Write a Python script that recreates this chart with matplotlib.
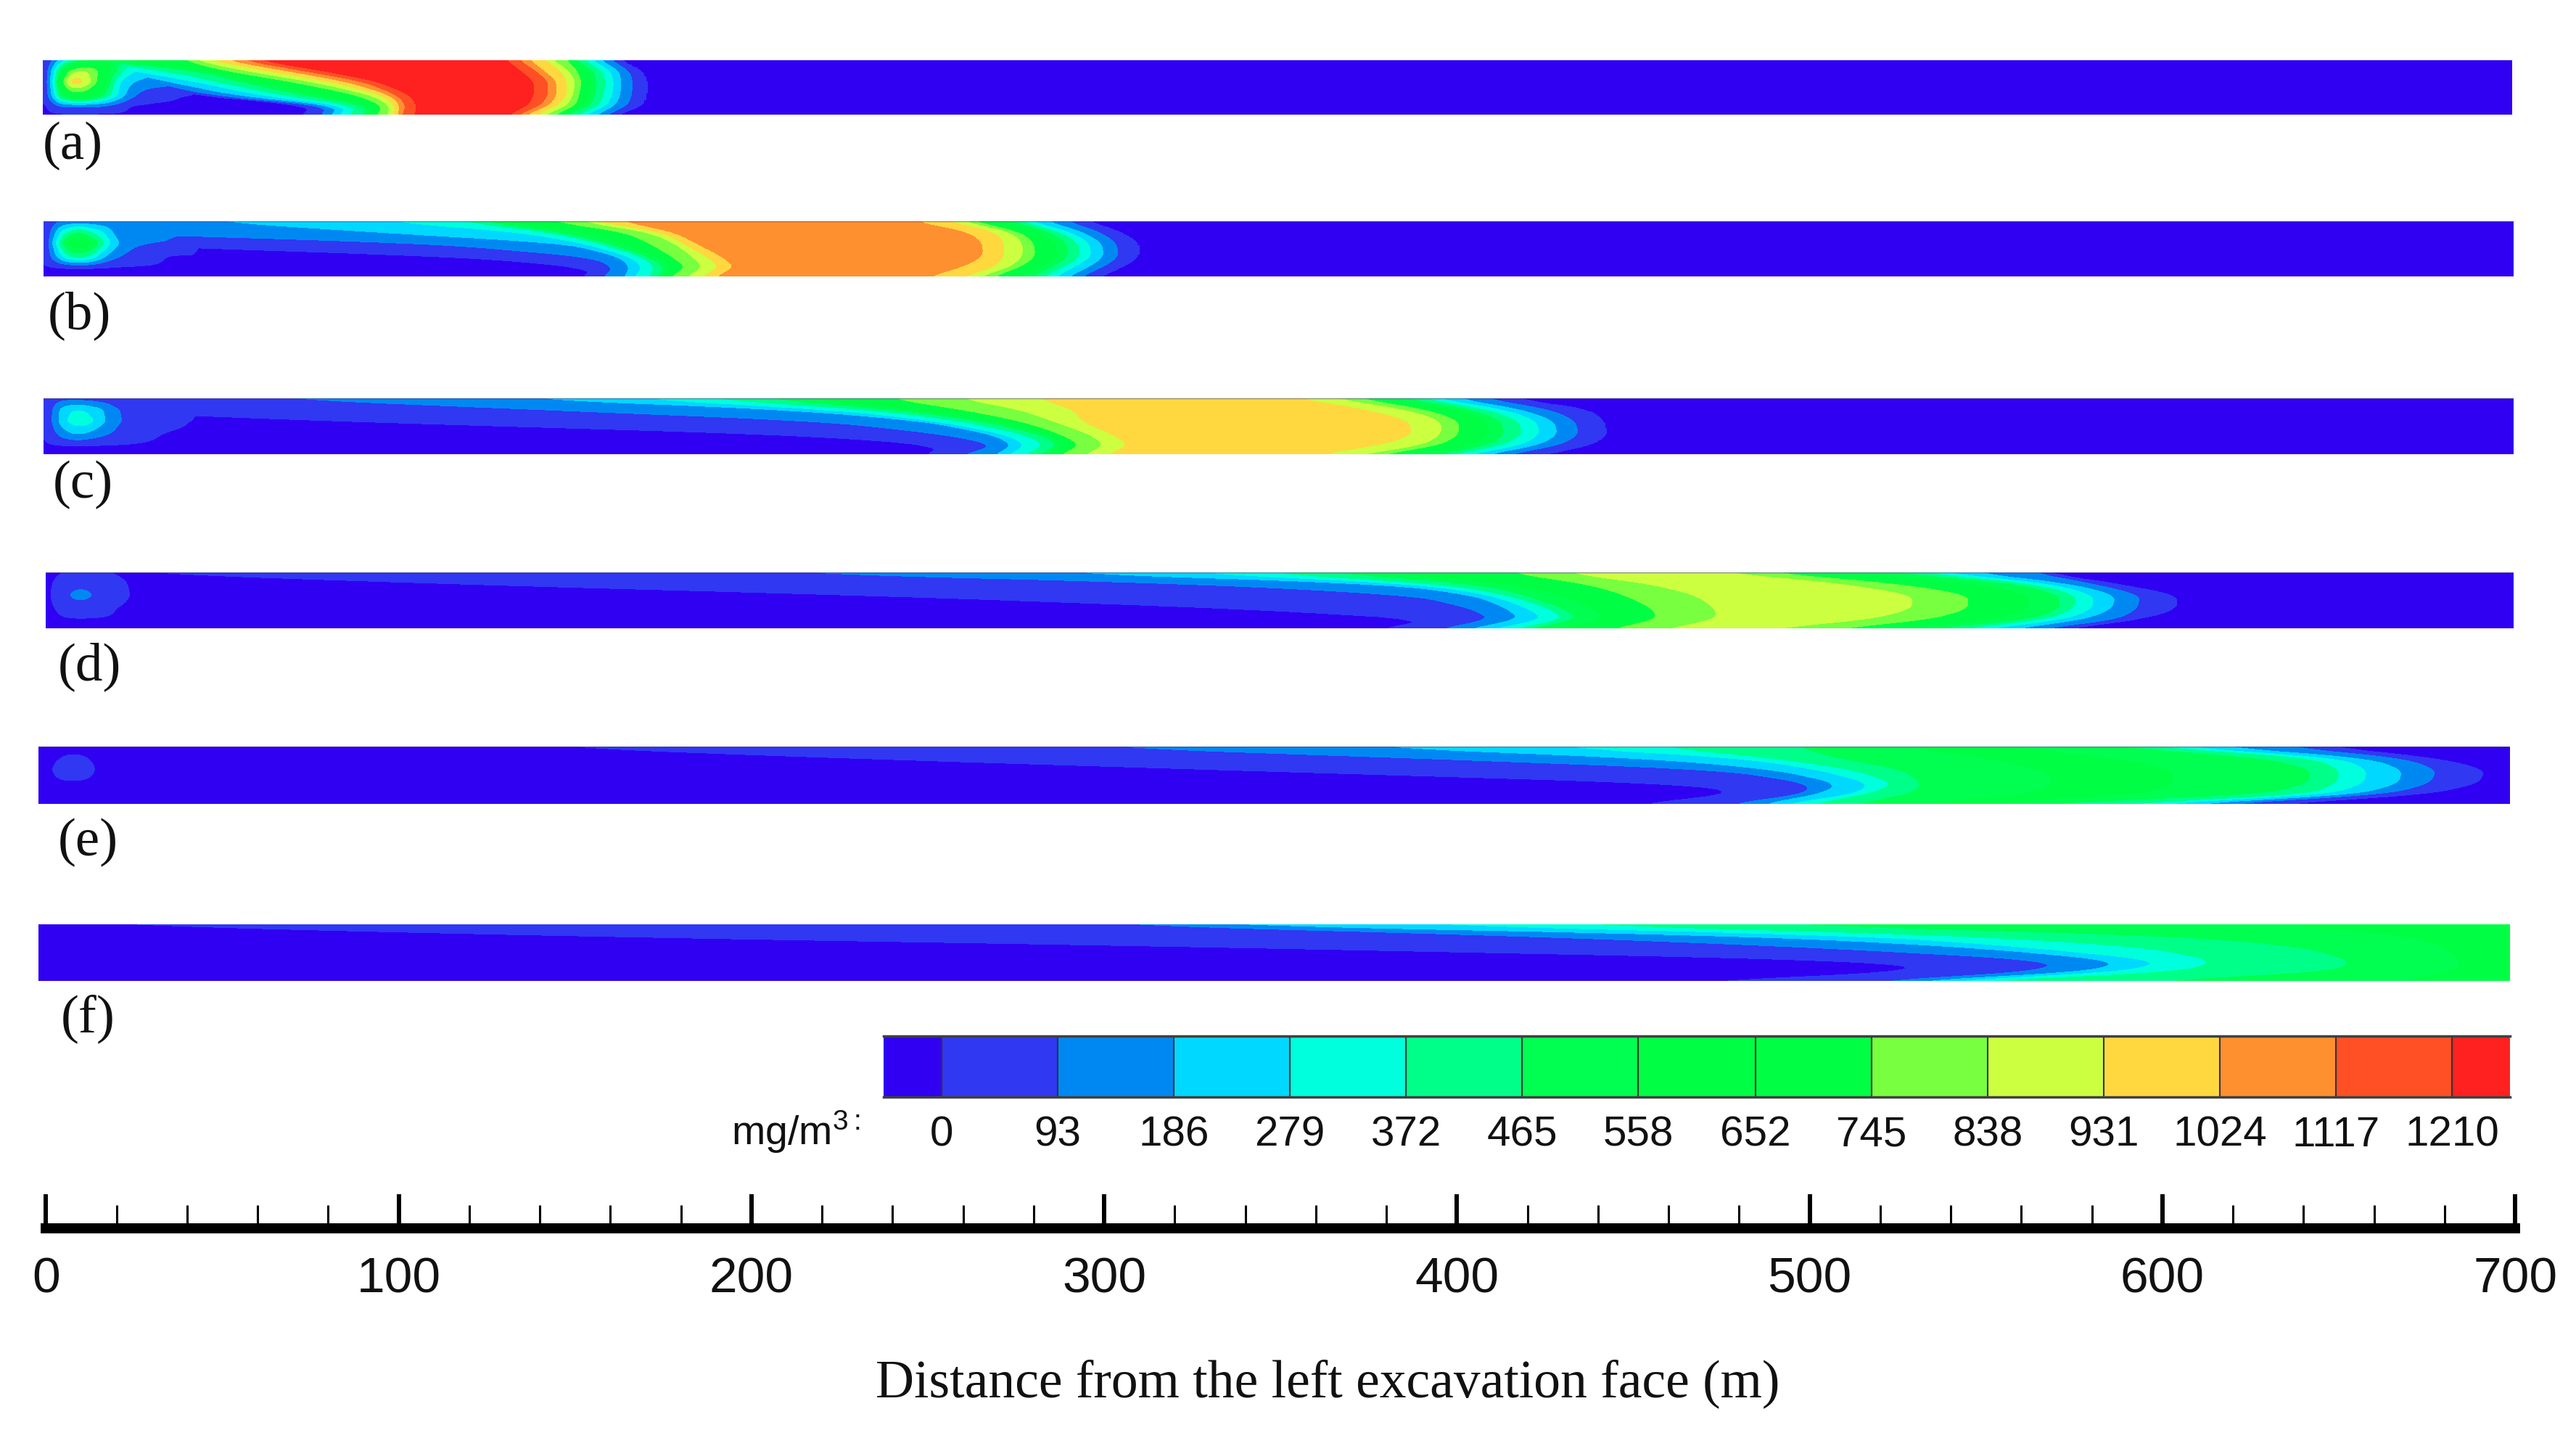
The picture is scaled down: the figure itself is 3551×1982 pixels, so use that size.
import numpy as np
import matplotlib
matplotlib.use("Agg")
import matplotlib.pyplot as plt

W, H = 3551, 1983
SHRINK = 3551 / 1568

# ---- colour scale ----
TICK_VALUES = [0, 93, 186, 279, 372, 465, 558, 652, 745, 838, 931, 1024, 1117, 1210]
BAND_COLORS = ["#3000F2", "#3038F2", "#0088F2", "#00D8FF", "#00FFDD", "#00FF88", "#00FF50",
               "#00FF44", "#00FF44", "#78FF40", "#CCFF40", "#FFD840", "#FF9030", "#FF5025", "#FF2020"]
UNIT_LABEL = "mg/m$^{3:}$"

# ---- distance scale ----
MAJOR_TICKS = [0, 100, 200, 300, 400, 500, 600, 700]
MINOR_TICKS = [20, 40, 60, 80, 120, 140, 160, 180, 220, 240, 260, 280, 320, 340, 360, 380, 420, 440,
               460, 480, 520, 540, 560, 580, 620, 640, 660, 680]
X_LABEL = "Distance from the left excavation face (m)"
PANEL_LABELS = ["(a)", "(b)", "(c)", "(d)", "(e)", "(f)"]

# ---- field ----
# Heights across the strip (1 = top) at which the band edges were read.
ROW_HEIGHTS = [1.0, 0.8, 0.6, 0.35, 0.15, 0.0]
LEVELS_A = [0, 93, 186, 279, 372, 465, 745, 838, 931, 1024, 1117, 1210]
LEVELS_B = [0, 93, 186, 279, 372, 465, 745, 838, 931, 1024]
LEVELS_C = [0, 93, 186, 279, 372, 465, 745, 838, 931]
LEVELS_D = [0, 93, 186, 279, 372, 465, 745, 838]
LEVELS_E = [0, 93, 186, 279, 372, 465]
LEVELS_F = [0, 93, 186, 279, 372, 465]
PLATEAUS = [1300, 1070, 980, 885, 600, 600]

# distance (m) at which concentration climbs through each level, one list per height
RISE_A = [[0.9, 3.3, 5.1, 6.8, 9.2, 12.8, 39.9, 42.9, 47, 51.7, 56.4, 60.6],
          [13.9, 17.5, 21, 25.7, 35.2, 44.6, 51.7, 57.6, 63.5, 69.4, 74.1, 79.5],
          [24.6, 30.5, 35.8, 43.4, 49.4, 55.8, 70.6, 76.5, 81.8, 86.5, 91.3, 95.4],
          [44, 47.5, 54.7, 61.7, 68.2, 74.7, 89.5, 93.6, 96.6, 98.9, 100.7, 104.2],
          [77.1, 81.2, 84.2, 86.5, 89.5, 92.4, 96.6, 98.7, 100.1, 101.5, 103.1, 106],
          [73.6, 78.9, 81.8, 84.2, 87.1, 90.7, 94.8, 97.8, 99.5, 100.7, 101.9, 105.4]]
FALL_A = [[131.4, 134.9, 137.9, 142, 144.4, 148.5, 150.9, 153.3, 155.6, 158, 161, 163.3],
          [135.5, 139.7, 142, 146.8, 149.1, 151.5, 156.2, 158.6, 160.9, 163.3, 166.2, 169.8],
          [139.3, 143.2, 145.6, 148.5, 150.9, 152.7, 156.8, 159.4, 161.8, 163.9, 167.2, 171.2],
          [139.3, 143.2, 145.6, 148.5, 150.2, 152, 156.5, 159, 161.4, 163.6, 166.9, 171],
          [137.3, 140.9, 143.2, 145.6, 148.5, 150.9, 155, 157.4, 159.7, 162.1, 165.6, 169.8],
          [132, 134.4, 136.7, 139.7, 142, 145, 148.5, 151.5, 153.8, 156.8, 159.7, 162.7]]

RISE_B = [[0.5, 5.2, 46.5, 96.1, 117.4, 123.3, 143.4, 151.7, 155.2, 163.5],
          [0.2, 0.7, 93.7, 135, 143.3, 146.9, 164.7, 171.7, 175.3, 178.8],
          [1.7, 109, 148, 152.8, 157.5, 159.9, 171.7, 178.8, 181.2, 184.7],
          [119.7, 155.1, 163.4, 166.4, 169.9, 171.7, 178.2, 184.1, 188.3, 192.4],
          [155.4, 162, 166.4, 169.9, 173.4, 176.4, 182.4, 187.1, 191.8, 195.9],
          [153.4, 158.7, 164.6, 167.5, 171.7, 174, 177.6, 182.4, 186.5, 190.6]]
FALL_B = [[246.1, 255.6, 259.7, 262.7, 273.3, 276.2, 279.2, 283.9, 289.8, 295.7],
          [262.1, 269.7, 273.9, 276.8, 285.1, 288, 291, 294.5, 299.3, 305.2],
          [266.2, 272.1, 277.4, 280.6, 289.8, 293.1, 296.3, 299.8, 304, 310.2],
          [266.2, 272.1, 277.4, 281, 290.4, 293.6, 296.9, 300.4, 304.6, 310.2],
          [259.7, 269.1, 273.3, 276.2, 285.1, 288.6, 291.6, 295.7, 299.8, 305.2],
          [250.8, 260.3, 265, 269.1, 280.4, 283.3, 286.9, 290.4, 294, 299.2]]

RISE_C = [[0.5, 63.9, 133.7, 166.7, 186.9, 203.4, 240, 260, 282],
          [0.5, 141, 212.6, 223.6, 234.6, 242, 260.3, 276.9, 292],
          [78.6, 220, 249.3, 253, 260, 265.8, 276.8, 286, 294],
          [216.3, 256.7, 269.5, 273.2, 278.7, 283, 289, 297, 303],
          [255.2, 270.4, 275, 278.7, 284, 288, 294, 301, 308],
          [250.2, 260.3, 269.5, 273.2, 278, 282, 288, 295, 301]]
FALL_C = [[355, 365, 372, 385, 390, 394, 400, 408, 416],
          [375, 386, 392, 405, 409, 414, 419, 427, 438],
          [387, 396, 401, 413, 418, 423, 428, 434, 442],
          [388, 396, 401, 414, 419, 424, 429, 435, 443],
          [378, 390, 395, 409, 413, 418, 423, 429, 438],
          [360, 372, 378, 394, 398, 403, 408, 414, 424]]

RISE_D = [[21.5, 205, 284, 323, 344, 363, 415, 431],
          [113, 328, 381, 389, 396, 406, 437, 455],
          [231, 388, 405, 410, 415, 420, 448, 468],
          [344, 405, 415, 421, 427, 431, 456, 473.6],
          [395, 410, 418, 425, 431, 435, 457, 473.6],
          [378, 395, 403, 410, 416, 420, 444, 459]]
FALL_D = [[475.1, 487.7, 522.4, 530.2, 536.5, 546, 563.3, 566.4],
          [509.8, 525.5, 558.5, 563.3, 568.8, 574.2, 580.6, 586.9],
          [529.4, 545.2, 571.2, 575.9, 580.6, 586.9, 594, 604.2],
          [529.4, 545.2, 571.2, 575.1, 580.6, 586.1, 593.2, 604.2],
          [516.1, 533.4, 561.7, 566.4, 571.9, 577.4, 586.9, 593.2],
          [487.7, 506.6, 533.4, 541.2, 549.1, 557, 564.9, 571.1]]

RISE_E = [[144, 298, 375, 429.5, 459, 498],
          [228, 390, 456, 482.5, 492, 510],
          [333, 476.7, 492, 504, 514, 527.8],
          [470, 502, 510, 519, 525.8, 533.6],
          [481, 500, 504, 514, 518, 529.7],
          [453, 478.6, 488, 494, 502, 514]]
FALL_E = [[586.7, 596.5, 604.4, 616.2, 635.8, 647.6],
          [630, 643.7, 651.6, 659.4, 669.3, 679.1],
          [643.7, 651.6, 659.4, 669.3, 679.1, 692.9],
          [642.7, 650.6, 658.4, 668.3, 677.1, 690.9],
          [628, 641.7, 647.6, 655.5, 663.5, 675.2],
          [561.2, 586.7, 596.5, 606.4, 616.2, 631.9]]

RISE_F = [[13, 298, 324, 385, 429.5, 488.4],
          [141.5, 419.7, 484.5, 518, 547, 606],
          [338, 502, 547, 563, 596.5, 641.7],
          [525, 572, 590, 602, 617, 655.5],
          [532, 565, 580, 590, 606, 649.6],
          [468.8, 518, 528, 537.6, 547, 596.5]]
FALL_F = [[], [], [], [], [], []]

# the pocket of gas near the face: concentration on a small grid, same heights
POCKET_X = [0, 2, 4, 7, 10, 13, 17, 21, 25, 30, 36, 44]
POCKET_A = [[-10, 50, 150, 300, 450, 558, 600, 500, 400, 300, 250, 200],
            [-10, 90, 372, 745, 850, 838, 700, 440, 300, 220, 190, 170],
            [-10, 90, 480, 950, 1000, 880, 650, 300, 190, 150, 130, 110],
            [-10, 80, 372, 640, 680, 650, 480, 280, 120, 30, 10, -10],
            [-10, -10, 90, 100, 100, 100, 90, 50, -10, -10, -10, -10],
            [-10, -10, -10, -10, -10, -10, -10, -10, -10, -10, -10, -10]]
POCKET_B = [[-10, 20, 93, 100, 110, 110, 110, 110, 110, 110, 110, 100],
            [-10, 60, 250, 372, 480, 372, 280, 130, 110, 100, 100, 100],
            [-10, 93, 350, 600, 680, 620, 372, 186, 110, 95, 90, 50],
            [-10, 90, 186, 372, 400, 372, 186, 93, 60, 30, -10, -10],
            [-10, -10, -10, -10, -10, -10, -10, -10, -10, -10, -10, -10],
            [-10, -10, -10, -10, -10, -10, -10, -10, -10, -10, -10, -10]]
POCKET_C = [[-10, 20, 60, 60, 60, 50, 40, 20, 10, -10, -10, -10],
            [-10, 40, 186, 260, 290, 250, 186, 90, 70, 60, 50, 30],
            [-10, 60, 186, 300, 350, 320, 200, 93, 85, 60, 20, -10],
            [-10, 40, 93, 160, 186, 150, 100, 70, 40, 10, -10, -10],
            [-10, -10, -10, -10, -10, -10, -10, -10, -10, -10, -10, -10],
            [-10, -10, -10, -10, -10, -10, -10, -10, -10, -10, -10, -10]]
POCKET_D = [[-10, -10, -10, 20, 20, 10, 5, -10, -10, -10, -10, -10],
            [-10, -10, 30, 60, 70, 60, 40, 10, -10, -10, -10, -10],
            [-10, -10, 60, 100, 130, 93, 60, 20, -10, -10, -10, -10],
            [-10, -10, 10, 40, 50, 40, 20, -10, -10, -10, -10, -10],
            [-10, -10, -10, -10, -10, -10, -10, -10, -10, -10, -10, -10],
            [-10, -10, -10, -10, -10, -10, -10, -10, -10, -10, -10, -10]]
POCKET_E = [[-10, -10, -10, -10, -10, -10, -10, -10, -10, -10, -10, -10],
            [-10, -10, -10, 3, 5, 3, -10, -10, -10, -10, -10, -10],
            [-10, -10, -5, 30, 40, 25, -10, -10, -10, -10, -10, -10],
            [-10, -10, -10, -10, -10, -10, -10, -10, -10, -10, -10, -10],
            [-10, -10, -10, -10, -10, -10, -10, -10, -10, -10, -10, -10],
            [-10, -10, -10, -10, -10, -10, -10, -10, -10, -10, -10, -10]]
POCKET_F = None

PANELS = [(LEVELS_A, RISE_A, FALL_A, POCKET_A), (LEVELS_B, RISE_B, FALL_B, POCKET_B),
          (LEVELS_C, RISE_C, FALL_C, POCKET_C), (LEVELS_D, RISE_D, FALL_D, POCKET_D),
          (LEVELS_E, RISE_E, FALL_E, POCKET_E), (LEVELS_F, RISE_F, FALL_F, POCKET_F)]

# ---- layout, in pixels of the 1568-wide view ----
STRIP_LEFT = [26, 26.5, 26.5, 28, 23.3, 23.3]
STRIP_RIGHT = [1529, 1530, 1530, 1530, 1528, 1528]
STRIP_TOP = [37, 135, 243, 349, 455, 563]
STRIP_BOTTOM = [70, 168.5, 277, 383, 489.5, 597.5]
LABEL_X = [26, 29, 32, 35, 35, 37]
LABEL_Y = [89, 192, 295, 406, 513, 620]
TOP_EDGE = [False, True, True, True, True, False]

plt.rcParams["font.family"] = ["Liberation Sans", "DejaVu Sans"]
plt.rcParams["mathtext.fontset"] = "custom"
plt.rcParams["mathtext.rm"] = "Liberation Sans"
plt.rcParams["mathtext.default"] = "regular"

fig = plt.figure(figsize=(W / 100, H / 100), dpi=100, facecolor="white")


def axes_px(left, top, right, bottom):
    return fig.add_axes([left / W, 1 - bottom / H, (right - left) / W, (bottom - top) / H])


def box(a, n, axis):
    pad = [(0, 0)] * a.ndim
    pad[axis] = (n // 2, n // 2)
    b = np.pad(a, pad, mode="edge")
    return np.apply_along_axis(lambda r: np.convolve(r, np.ones(n) / n, mode="valid"), axis, b)


xf = np.linspace(0, 700, 1401)
yf = np.linspace(0, 1, 81)
heights = np.array(ROW_HEIGHTS)[::-1]
contour_levels = [-100] + TICK_VALUES + [1500]


def up_rows(table):
    t = np.array(table, dtype=float)[::-1]
    return np.array([np.interp(yf, heights, t[:, k]) for k in range(t.shape[1])]).T


def build_field(i):
    levels, rise, fall, pocket = PANELS[i]
    rise_up = box(up_rows(rise), 15, 0)
    has_fall = len(fall[0]) > 0
    if has_fall:
        fall_up = box(up_rows(fall), 15, 0)
    field = np.zeros((len(yf), len(xf)))
    for r in range(len(yf)):
        if has_fall:
            mid = (rise_up[r, -1] + fall_up[r, 0]) / 2
            xs = np.r_[0, rise_up[r], mid, fall_up[r], 700]
            zs = np.r_[-46, levels, PLATEAUS[i], levels[::-1], -46]
        else:
            xs = np.r_[0, rise_up[r], 700]
            zs = np.r_[-46, levels, PLATEAUS[i]]
        field[r] = np.interp(xf, np.maximum.accumulate(xs), zs)
    if pocket is not None:
        p_up = up_rows(pocket)
        pf = np.array([np.interp(xf, POCKET_X, p_up[r], right=-46) for r in range(len(yf))])
        pf = box(box(pf, 9, 1), 7, 0)
        field = np.maximum(field, pf)
    return field


for i in range(6):
    ax = axes_px(STRIP_LEFT[i] * SHRINK, STRIP_TOP[i] * SHRINK, STRIP_RIGHT[i] * SHRINK, STRIP_BOTTOM[i] * SHRINK)
    ax.contourf(xf, yf, build_field(i), levels=contour_levels, colors=BAND_COLORS)
    ax.set_xlim(0, 700)
    ax.set_ylim(0, 1)
    ax.set_facecolor(BAND_COLORS[0])
    ax.axis("off")
    if TOP_EDGE[i]:
        ax.axhline(1, color="#404070", lw=1.6, alpha=0.6)
    fig.text(LABEL_X[i] * SHRINK / W, 1 - LABEL_Y[i] * SHRINK / H, PANEL_LABELS[i],
             family=["Liberation Serif"], fontsize=54, ha="left", va="center", color="#111111")

# colour bar
cax = axes_px(1218, 1429, 3460, 1513)
edges = [TICK_VALUES[0] - 46.5] + TICK_VALUES + [TICK_VALUES[-1] + 46.5]
cax.pcolormesh(edges, [0, 1], np.arange(15).reshape(1, -1),
               cmap=matplotlib.colors.ListedColormap(BAND_COLORS), vmin=-0.5, vmax=14.5)
cax.vlines(TICK_VALUES, 0, 1, colors="#333333", linewidth=1.5)
cax.set_xlim(edges[0], edges[-1])
cax.set_ylim(0, 1)
cax.set_yticks([])
cax.set_xticks(TICK_VALUES)
cax.set_xticklabels([str(v) for v in TICK_VALUES], fontsize=42, color="#111111")
cax.tick_params(axis="x", length=0, pad=18)
for s in ("left", "right"):
    cax.spines[s].set_visible(False)
for s in ("top", "bottom"):
    cax.spines[s].set_color("#404040")
    cax.spines[s].set_linewidth(2.5)
fig.text(1186 / W, 1 - 1578 / H, UNIT_LABEL, fontsize=40, ha="right", va="baseline", color="#111111")

# distance scale
sax = axes_px(STRIP_LEFT[3] * SHRINK, 1640, 1531 * SHRINK, 1694)
sax.set_xlim(0, 700)
sax.set_ylim(0, 1)
sax.patch.set_visible(False)
for s in ("left", "right", "top"):
    sax.spines[s].set_visible(False)
sax.spines["bottom"].set_linewidth(10)
sax.spines["bottom"].set_color("black")
sax.set_yticks([])
sax.set_xticks(MAJOR_TICKS)
sax.set_xticks(MINOR_TICKS, minor=True)
sax.set_xticklabels([str(v) for v in MAJOR_TICKS], fontsize=50, color="#111111")
sax.tick_params(axis="x", which="major", direction="in", length=34, width=4.3, pad=27)
sax.tick_params(axis="x", which="minor", direction="in", length=23, width=2.2)

fig.text(808 * SHRINK / W, 1 - 842 * SHRINK / H, X_LABEL, family=["Liberation Serif"], fontsize=53,
         ha="center", va="center", color="#111111")

fig.savefig("out.png", dpi=100, facecolor="white")
